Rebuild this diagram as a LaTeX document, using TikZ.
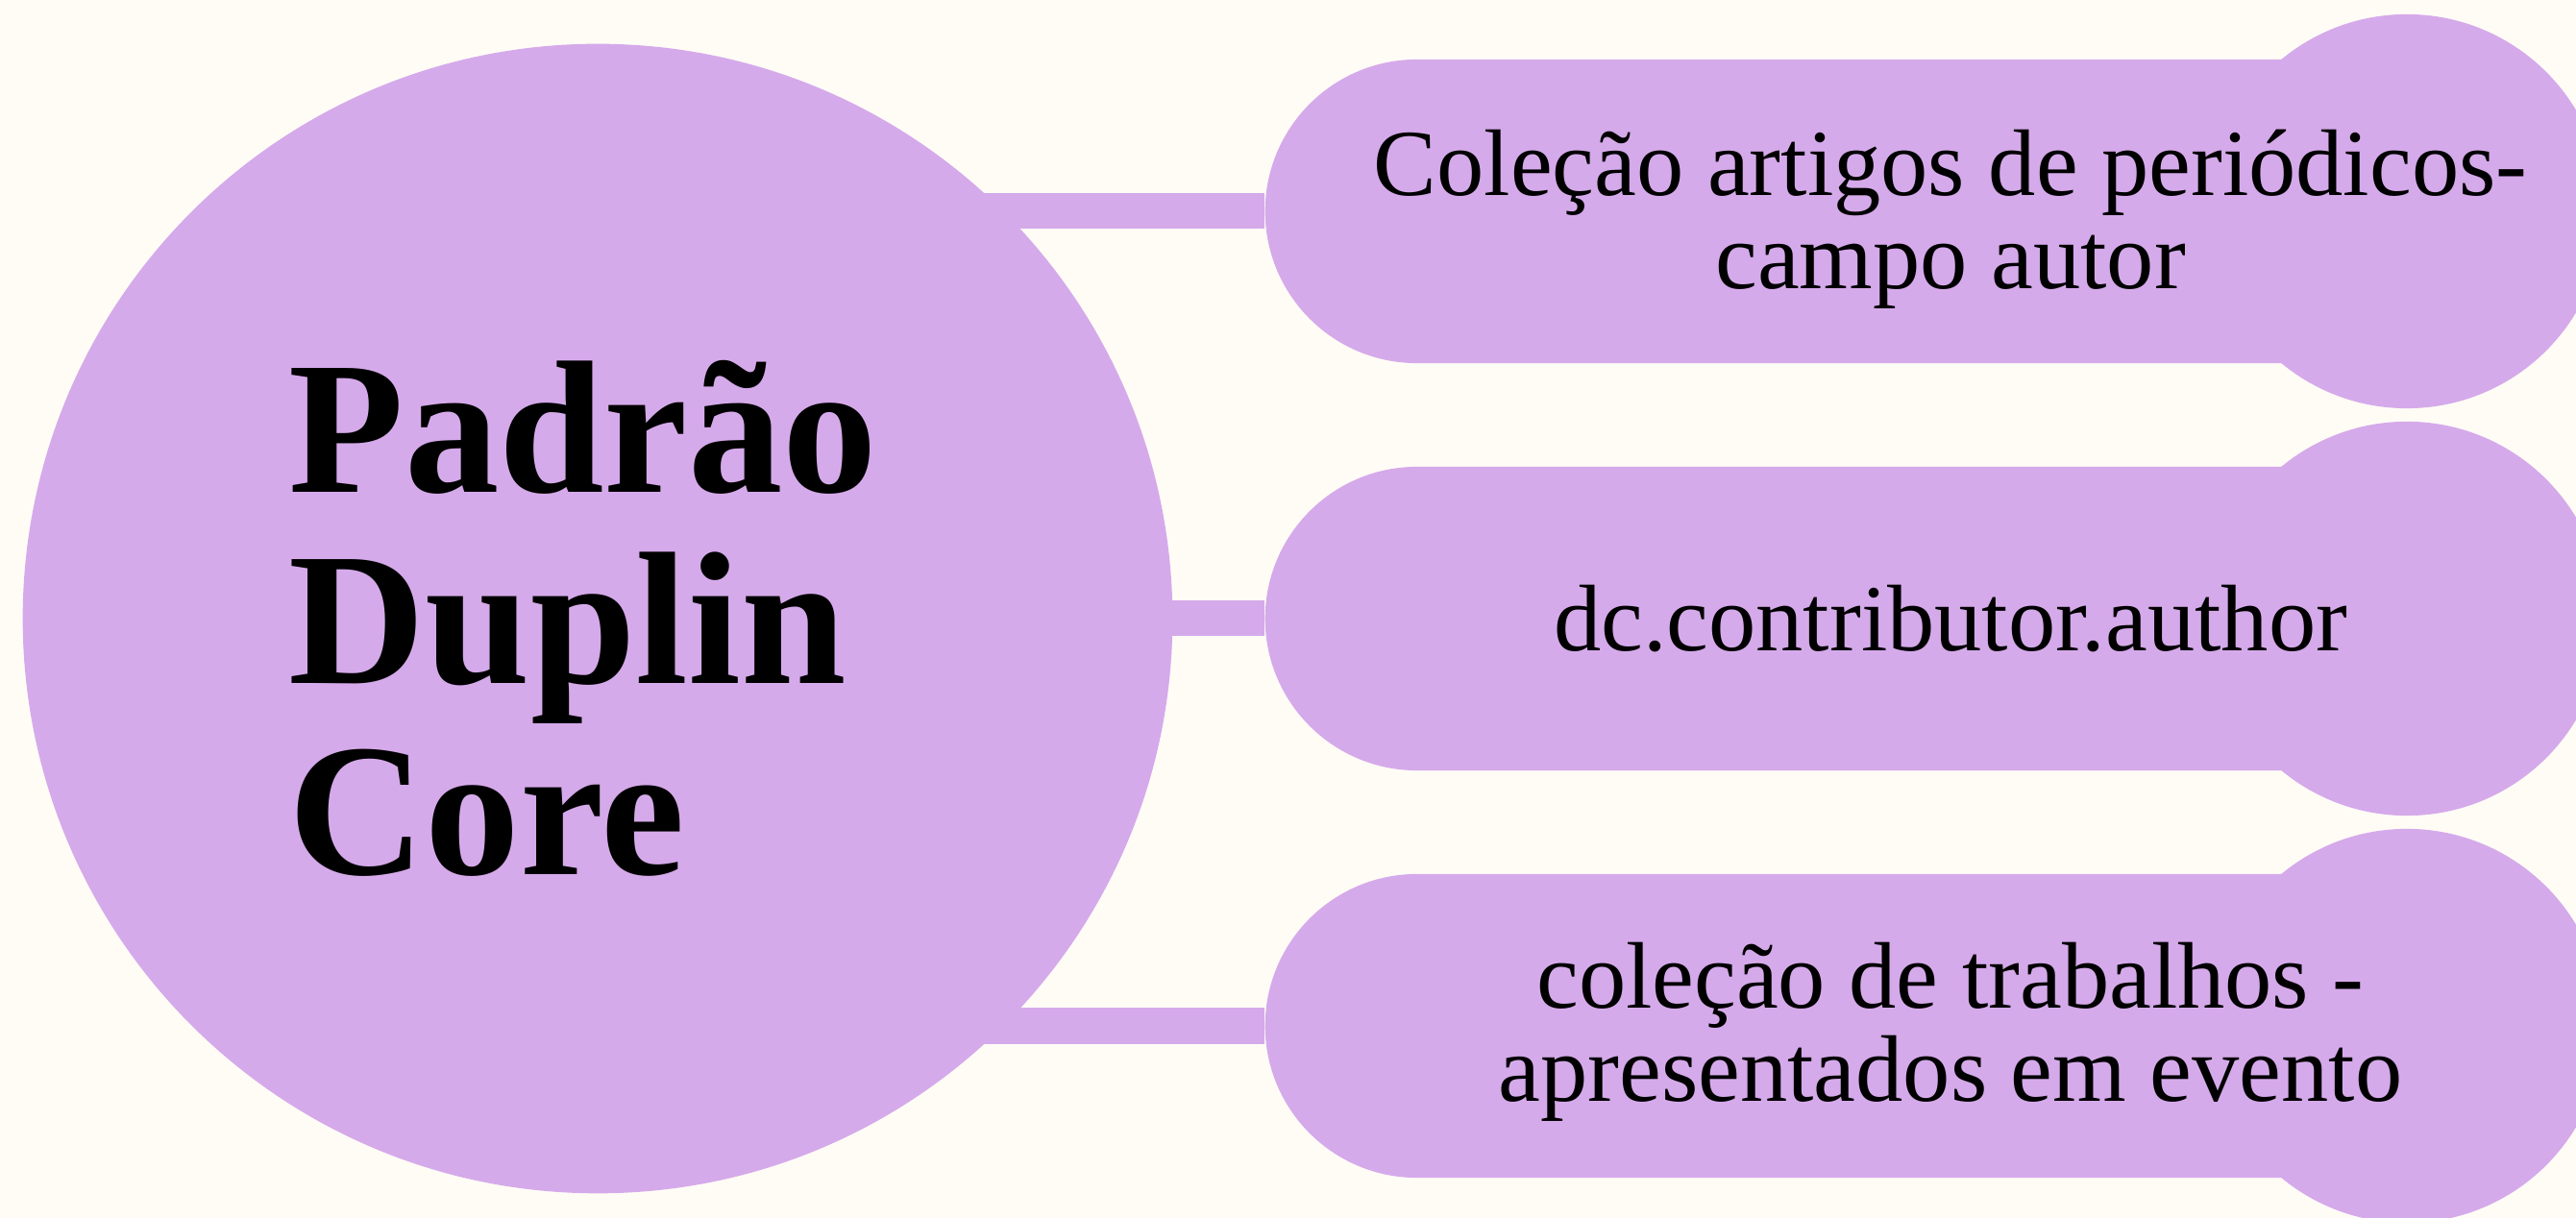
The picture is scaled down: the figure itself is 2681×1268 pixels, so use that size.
\documentclass[tikz,border=0pt]{standalone}
\usepackage{fontspec}
\setmainfont{Liberation Serif}
\usepackage{tikz}
\usetikzlibrary{shapes.misc}

\definecolor{lilac}{HTML}{D5AAEA}
\definecolor{cream}{HTML}{FFFCF6}

\begin{document}
\begin{tikzpicture}[x=0.01cm,y=-0.01cm,
            hub node/.style={circle,fill=lilac,minimum size=11.96cm,inner sep=0pt},
            title node/.style={align=left,font=\fontsize{56}{56.5}\selectfont\bfseries},
            pill node/.style={rounded rectangle,rounded rectangle right arc=none,
                fill=lilac,minimum width=11.4cm,minimum height=3.16cm,inner sep=0pt},
            cap node/.style={circle,fill=lilac,minimum size=4.1cm,inner sep=0pt},
            text node/.style={align=center,font=\fontsize{28}{27.5}\selectfont},
            bar/.style={draw=lilac,line width=0.37cm}]

    \fill[cream] (0,0) rectangle (2681,1268);
    \useasboundingbox (0,0) rectangle (2681,1268);

    \node[hub node] (core) at (622,644) {};

    \node[cap node] (c1) at (2505,220) {};
    \node[cap node] (c2) at (2505,644) {};
    \node[cap node] (c3) at (2505,1068) {};

    \node[pill node] (p1) at (1887,220) {};
    \node[pill node] (p2) at (1887,644) {};
    \node[pill node] (p3) at (1887,1068) {};

    \draw[bar] (p1.west -| core.center) -- (p1.west);
    \draw[bar] (p2.west -| core.center) -- (p2.west);
    \draw[bar] (p3.west -| core.center) -- (p3.west);

    \node[title node] (title) at (607,644) {Padrão\\Duplin\\Core};

    \node[text node] (t1) at (2030,228) {Coleção artigos de periódicos-\\campo autor};
    \node[text node] (t2) at (2030,644) {dc.contributor.author};
    \node[text node] (t3) at (2030,1074) {coleção de trabalhos -\\apresentados em evento};
\end{tikzpicture}
\end{document}
